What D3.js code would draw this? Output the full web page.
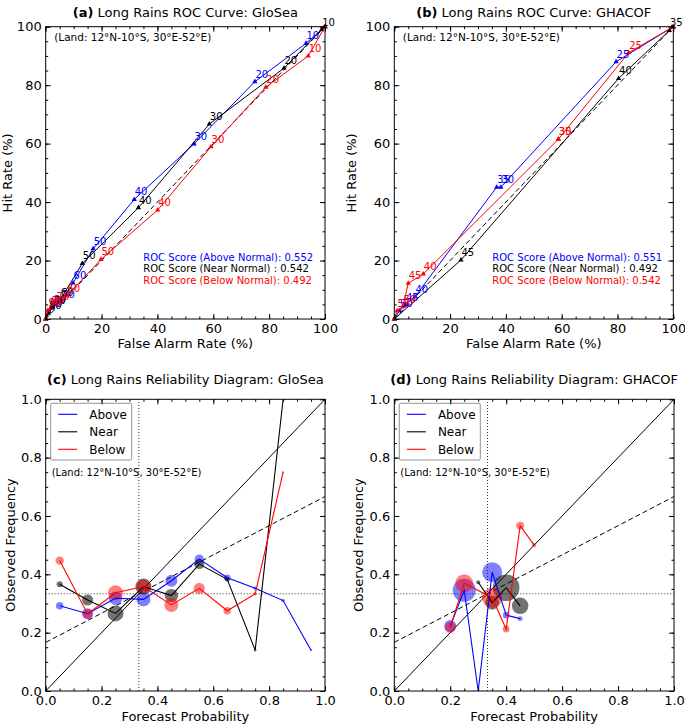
<!DOCTYPE html>
<html><head><meta charset="utf-8">
<script src="https://cdn.jsdelivr.net/npm/d3@7"></script>
<style>body{margin:0;background:#fff}svg{display:block;font-family:"DejaVu Sans",sans-serif}</style>
</head><body><svg id="c" width="685" height="725"></svg>
<script>
// ---------------- DATA ----------------
// ROC (a) GloSea: [false alarm %, hit %, threshold label]
const rocA_above = [[100,100,""],[93.2,94.3,"10"],[74.9,81.2,"20"],[53.1,59.9,"30"],[31.7,40.9,"40"],[17,24,"50"],[9.8,12.3,"60"],[5.7,5.8,"70"],[2.6,4.2,"80"],[1.2,2.6,"90"],[0,0,""]];
const rocA_near  = [[100,100,""],[98.8,99.0,"10"],[85.3,85.8,"20"],[58.6,66.7,"30"],[33.2,38.1,"40"],[13.1,19.0,"50"],[5.2,6.5,"60"],[2.4,3.8,"70"],[1,2,"80"],[0,0,""]];
const rocA_below = [[100,100,""],[94.0,90.0,"10"],[78.8,79.3,"20"],[59.2,58.9,"30"],[40.1,37.3,"40"],[19.8,20.4,"50"],[7.6,7.9,"60"],[3.7,5.1,"70"],[1.8,3.8,"80"],[0.8,3,"90"],[0,0,""]];
// ROC (b) GHACOF
const rocB_above = [[100,100,""],[79.5,88.0,"25"],[38.2,45.1,"30"],[36.7,45.1,"35"],[7.4,7.6,"40"],[4,4.8,"45"],[1.8,2.8,"50"],[0,0,""]];
const rocB_near  = [[100,100,""],[98.6,98.7,"35"],[80.4,82.3,"40"],[23.9,20.2,"45"],[0,0,""]];
const rocB_below = [[100,100,""],[84.0,91.1,"25"],[58.8,61.5,"30"],[58.8,61.5,"35"],[10.4,15.4,"40"],[5.0,12.2,"45"],[3.1,4.2,"50"],[1,2.8,"55"],[0,0,""]];
const rocScoresA = [0.552, 0.542, 0.492];
const rocScoresB = [0.551, 0.492, 0.542];
const rocCats = ["Above Normal", "Near Normal", "Below Normal"];

// Reliability (c) GloSea
const relC_above_prob = [0.05,0.15,0.25,0.35,0.45,0.55,0.65,0.75,0.85,0.95];
const relC_above_obs  = [0.292,0.265,0.318,0.314,0.378,0.452,0.388,0.352,0.31,0.14];
const relC_above_n    = [23,50,74,81,59,36,18,5,5,2];
const relC_near_prob  = [0.05,0.15,0.25,0.35,0.45,0.55,0.65,0.75,0.85];
const relC_near_obs   = [0.366,0.312,0.266,0.358,0.327,0.435,0.383,0.14,1.0];
const relC_near_n     = [15,50,105,105,74,41,10,3,0];
const relC_below_prob = [0.05,0.15,0.25,0.35,0.45,0.55,0.65,0.75,0.85];
const relC_below_obs  = [0.447,0.264,0.337,0.358,0.295,0.352,0.275,0.333,0.75];
const relC_below_n    = [29,41,93,81,81,50,23,5,2];
// Reliability (d) GHACOF
const relD_above_prob = [0.2,0.25,0.3,0.35,0.4,0.45];
const relD_above_obs  = [0.223,0.345,0.0,0.407,0.26,0.248];
const relD_above_n    = [59,218,1,165,18,10];
const relD_near_prob  = [0.3,0.35,0.4,0.45];
const relD_near_obs   = [0.373,0.303,0.354,0.292];
const relD_near_n     = [7,81,291,113];
const relD_below_prob = [0.2,0.25,0.35,0.4,0.45,0.5];
const relD_below_obs  = [0.218,0.369,0.32,0.212,0.567,0.5];
const relD_below_n    = [50,133,165,18,26,7];

const rocTicks = [0,20,40,60,80,100];
const relTicks = [0,0.2,0.4,0.6,0.8,1.0];
const legendLabels = ["Above","Near","Below"];
const regionNote = "(Land: 12°N-10°S, 30°E-52°E)";

// ---------------- DRAW ----------------
const COLORS = ["#0000ff","#000000","#ff0000"];
const svg = d3.select("#c");

function frame(g, x, y, major, minor, fmt){
  const [x0,x1]=x.range(), [y0,y1]=y.range();
  const mk = (ax, size, vals, f) => ax.tickValues(vals).tickSize(size).tickPadding(5).tickFormat(f);
  const st = sel => { sel.select(".domain").remove(); sel.selectAll("text").attr("font-size",13).attr("font-family",'"DejaVu Sans",sans-serif').attr("fill","#000"); sel.selectAll("line").attr("stroke","#000"); };
  g.append("g").attr("transform",`translate(0,${y0})`).call(mk(d3.axisBottom(x),-5,major,fmt)).call(st);
  g.append("g").attr("transform",`translate(0,${y0})`).call(mk(d3.axisBottom(x),-2.5,minor,"")).call(st);
  g.append("g").attr("transform",`translate(0,${y1})`).call(mk(d3.axisTop(x),-5,major,"")).call(st);
  g.append("g").attr("transform",`translate(0,${y1})`).call(mk(d3.axisTop(x),-2.5,minor,"")).call(st);
  g.append("g").attr("transform",`translate(${x0},0)`).call(mk(d3.axisLeft(y),-5,major,fmt).tickPadding(4)).call(st);
  g.append("g").attr("transform",`translate(${x0},0)`).call(mk(d3.axisLeft(y),-2.5,minor,"")).call(st);
  g.append("g").attr("transform",`translate(${x1},0)`).call(mk(d3.axisRight(y),-5,major,"")).call(st);
  g.append("g").attr("transform",`translate(${x1},0)`).call(mk(d3.axisRight(y),-2.5,minor,"")).call(st);
  g.append("rect").attr("x",x0).attr("y",y1).attr("width",x1-x0).attr("height",y0-y1)
    .attr("fill","none").attr("stroke","#000").attr("stroke-width",1);
}

function title(g, cx, yb, tag, txt){
  const t = g.append("text").attr("x",cx).attr("y",yb).attr("text-anchor","middle").attr("font-size",13);
  t.append("tspan").attr("font-weight","bold").text(tag);
  t.append("tspan").text(" "+txt);
}

function labels(g, x, y, xl, yl, ylx){
  const [x0,x1]=x.range(), [y0,y1]=y.range();
  g.append("text").attr("x",(x0+x1)/2).attr("y",xl).attr("text-anchor","middle").attr("font-size",13).text(arguments[6+1]);
}

function rocPanel(cfg){
  const g = svg.append("g");
  const x = d3.scaleLinear().domain([0,100]).range(cfg.xr);
  const y = d3.scaleLinear().domain([0,100]).range(cfg.yr);
  const minor = d3.range(0,101,5);
  // diagonal
  g.append("line").attr("x1",x(0)).attr("y1",y(0)).attr("x2",x(100)).attr("y2",y(100))
    .attr("stroke","#000").attr("stroke-width",1).attr("stroke-dasharray","5,3");
  const line = d3.line().x(d=>x(d[0])).y(d=>y(d[1]));
  const tri = d3.symbol().type(d3.symbolTriangle).size(12);
  cfg.series.forEach((s,i)=>{
    g.append("path").attr("d",line(s)).attr("fill","none").attr("stroke",COLORS[i]).attr("stroke-width",1);
    g.selectAll(null).data(s).enter().append("path").attr("d",tri)
      .attr("transform",d=>`translate(${x(d[0])},${y(d[1])})`).attr("fill",COLORS[i]);
  });
  cfg.series.forEach((s,i)=>{
    g.selectAll(null).data(s.filter(d=>d[2]!=="")).enter().append("text")
      .attr("x",d=>x(d[0])+0.5).attr("y",d=>y(d[1])-4).attr("font-size",10).attr("fill",COLORS[i]).text(d=>d[2]);
  });
  // scores
  cfg.scores.forEach((v,i)=>{
    const sep = i===1 ? ") : " : "): ";
    g.append("text").attr("x",cfg.scoreX).attr("y",260.7+i*11.7).attr("font-size",10).attr("fill",COLORS[i])
      .text("ROC Score ("+rocCats[i]+sep+v.toFixed(3));
  });
  g.append("text").attr("x",cfg.xr[0]+8.5).attr("y",40.5).attr("font-size",10.5).text(regionNote);
  frame(g,x,y,rocTicks,minor,d3.format("d"));
  title(g,(cfg.xr[0]+cfg.xr[1])/2,17,cfg.tag,cfg.title);
  g.append("text").attr("x",(cfg.xr[0]+cfg.xr[1])/2).attr("y",348).attr("text-anchor","middle").attr("font-size",13).text("False Alarm Rate (%)");
  g.append("text").attr("transform",`translate(${cfg.ylx},${(cfg.yr[0]+cfg.yr[1])/2}) rotate(-90)`).attr("text-anchor","middle").attr("font-size",13).text("Hit Rate (%)");
}

const rScale = d3.scaleSqrt().domain([0,300]).range([0,13.5]);

function relPanel(cfg){
  const g = svg.append("g");
  const x = d3.scaleLinear().domain([0,1]).range(cfg.xr);
  const y = d3.scaleLinear().domain([0,1]).range(cfg.yr);
  const minor = d3.range(0,1.0001,0.05);
  const clipId = "clip"+cfg.tag.replace(/\W/g,"");
  g.append("clipPath").attr("id",clipId).append("rect").attr("x",cfg.xr[0]).attr("y",cfg.yr[1])
    .attr("width",cfg.xr[1]-cfg.xr[0]).attr("height",cfg.yr[0]-cfg.yr[1]);
  const pg = g.append("g").attr("clip-path",`url(#${clipId})`);
  // reference lines
  pg.append("line").attr("x1",x(0)).attr("y1",y(0)).attr("x2",x(1)).attr("y2",y(1)).attr("stroke","#000").attr("stroke-width",1);
  pg.append("line").attr("x1",x(0)).attr("y1",y(1/6)).attr("x2",x(1)).attr("y2",y(2/3)).attr("stroke","#000").attr("stroke-width",1).attr("stroke-dasharray","5,3");
  pg.append("line").attr("x1",x(1/3)).attr("y1",y(0)).attr("x2",x(1/3)).attr("y2",y(1)).attr("stroke","#333").attr("stroke-width",1).attr("stroke-dasharray","1,2");
  pg.append("line").attr("x1",x(0)).attr("y1",y(1/3)).attr("x2",x(1)).attr("y2",y(1/3)).attr("stroke","#333").attr("stroke-width",1).attr("stroke-dasharray","1,2");
  const line = d3.line().x(d=>x(d[0])).y(d=>y(d[1]));
  cfg.series.forEach((s,i)=>{
    const pts = s.prob.map((p,j)=>[p,s.obs[j],s.n[j]]);
    pg.selectAll(null).data(pts).enter().append("circle")
      .attr("cx",d=>x(d[0])).attr("cy",d=>y(d[1])).attr("r",d=>rScale(d[2]))
      .attr("fill",COLORS[i]).attr("fill-opacity",i===1?0.55:0.5);
  });
  cfg.series.forEach((s,i)=>{
    const pts = s.prob.map((p,j)=>[p,s.obs[j]]);
    pg.append("path").attr("d",line(pts)).attr("fill","none").attr("stroke",COLORS[i]).attr("stroke-width",1.1);
  });
  // legend
  const lx = cfg.xr[0]+5, ly = cfg.yr[1]+4;
  g.append("rect").attr("x",lx).attr("y",ly).attr("width",81).attr("height",56.7).attr("rx",1.5)
    .attr("fill","#fff").attr("stroke","#777").attr("stroke-width",0.8);
  legendLabels.forEach((t,i)=>{
    const yy = ly+11+i*17.5;
    g.append("line").attr("x1",lx+7.5).attr("x2",lx+26.5).attr("y1",yy).attr("y2",yy).attr("stroke",COLORS[i]).attr("stroke-width",1.1);
    g.append("text").attr("x",lx+38.6).attr("y",yy+4.2).attr("font-size",12).text(t);
  });
  g.append("text").attr("x",cfg.xr[0]+6).attr("y",cfg.yr[1]+77).attr("font-size",10).text(regionNote);
  frame(g,x,y,relTicks,minor,d3.format(".1f"));
  title(g,(cfg.xr[0]+cfg.xr[1])/2,384,cfg.tag,cfg.title);
  g.append("text").attr("x",(cfg.xr[0]+cfg.xr[1])/2).attr("y",721).attr("text-anchor","middle").attr("font-size",13).text("Forecast Probability");
  g.append("text").attr("transform",`translate(${cfg.ylx},${(cfg.yr[0]+cfg.yr[1])/2}) rotate(-90)`).attr("text-anchor","middle").attr("font-size",13).text("Observed Frequency");
}

rocPanel({xr:[45.7,325],yr:[319,26.7],tag:"(a)",title:"Long Rains ROC Curve: GloSea",series:[rocA_above,rocA_near,rocA_below],scores:rocScoresA,scoreX:143.3,ylx:12});
rocPanel({xr:[394.3,673.3],yr:[319,26.7],tag:"(b)",title:"Long Rains ROC Curve: GHACOF",series:[rocB_above,rocB_near,rocB_below],scores:rocScoresB,scoreX:492.3,ylx:356});
relPanel({xr:[45.7,325],yr:[691,399.3],tag:"(c)",title:"Long Rains Reliability Diagram: GloSea",ylx:14.5,
  series:[{prob:relC_above_prob,obs:relC_above_obs,n:relC_above_n},{prob:relC_near_prob,obs:relC_near_obs,n:relC_near_n},{prob:relC_below_prob,obs:relC_below_obs,n:relC_below_n}]});
relPanel({xr:[394.3,674],yr:[691,399.3],tag:"(d)",title:"Long Rains Reliability Diagram: GHACOF",ylx:363,
  series:[{prob:relD_above_prob,obs:relD_above_obs,n:relD_above_n},{prob:relD_near_prob,obs:relD_near_obs,n:relD_near_n},{prob:relD_below_prob,obs:relD_below_obs,n:relD_below_n}]});
</script></body></html>
